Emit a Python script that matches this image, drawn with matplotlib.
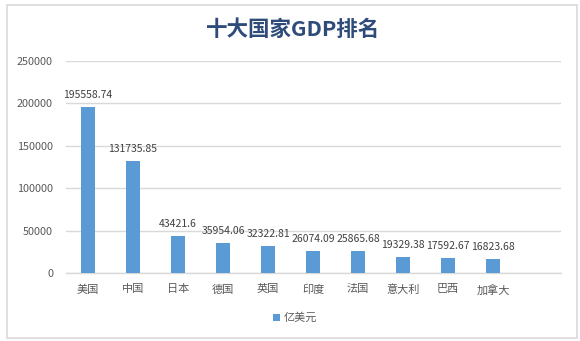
import matplotlib
matplotlib.use("Agg")
import matplotlib.pyplot as plt
from matplotlib.patches import Rectangle, Patch
from matplotlib.ticker import FixedLocator

plt.rcParams['font.family'] = ['Noto Sans CJK SC', 'DejaVu Sans']

countries = ['美国', '中国', '日本', '德国', '英国', '印度', '法国', '意大利', '巴西', '加拿大']
gdp = [195558.74, 131735.85, 43421.6, 35954.06, 32322.81,
       26074.09, 25865.68, 19329.38, 17592.67, 16823.68]
value_labels = ['195558.74', '131735.85', '43421.6', '35954.06', '32322.81',
                '26074.09', '25865.68', '19329.38', '17592.67', '16823.68']
y_ticks = [0, 50000, 100000, 150000, 200000, 250000]
series_name = '亿美元'
title = '十大国家GDP排名'

W, H = 580, 341
fig = plt.figure(figsize=(W / 100, H / 100), dpi=100)
fig.patch.set_facecolor('white')

# outer chart frame
fig.patches.append(Rectangle((7 / W, 1 - 338 / H), 570 / W, 333 / H,
                             transform=fig.transFigure, fill=False,
                             edgecolor='#D9D9D9', linewidth=1.2))

ax = fig.add_axes([65.5 / W, 1 - 273.3 / H, 495 / W, 212.3 / H])
x = list(range(len(countries)))
bar_color = '#5B9BD5'
ax.bar(x, gdp, width=0.31, color=bar_color, zorder=3)

ax.set_xlim(-0.5, len(countries) + 0.5)
ax.set_ylim(0, 250000)
ax.yaxis.set_major_locator(FixedLocator(y_ticks))
ax.set_yticklabels([str(v) for v in y_ticks])
ax.set_xticks(x)
ax.set_xticklabels(countries)

ax.grid(axis='y', color='#D9D9D9', linewidth=1.0, zorder=0)
for side in ['top', 'right', 'left']:
    ax.spines[side].set_visible(False)
ax.spines['bottom'].set_color('#D9D9D9')
ax.spines['bottom'].set_linewidth(1.0)
ax.tick_params(axis='both', length=0, colors='#595959')
ax.tick_params(axis='y', labelsize=7.8, pad=9)
ax.tick_params(axis='x', labelsize=8, pad=8)

for xi, v, lab in zip(x, gdp, value_labels):
    ax.annotate(lab, (xi, v), xytext=(0, 5), textcoords='offset points',
                ha='center', va='bottom', fontsize=7.5, color='#404040')

fig.text(293 / W, 1 - 29 / H, title, ha='center', va='center',
         fontsize=15.5, fontweight='bold', color='#2E4B7A')

handle = Patch(facecolor=bar_color, edgecolor='none')
fig.legend([handle], [series_name], loc='center', bbox_to_anchor=(295 / W, 1 - 318 / H),
           frameon=False, fontsize=8, handlelength=0.6, handleheight=0.6,
           handletextpad=0.3, labelcolor='#595959')

fig.savefig('out.png', dpi=100, facecolor='white')
